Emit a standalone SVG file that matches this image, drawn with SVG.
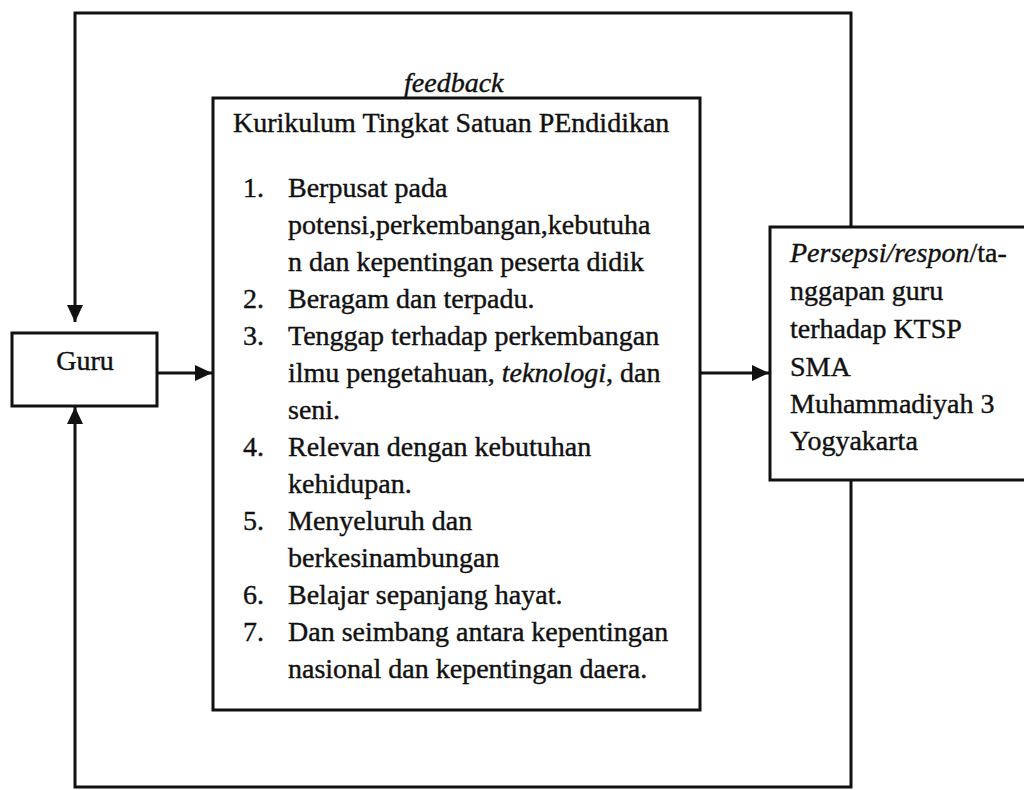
<svg xmlns="http://www.w3.org/2000/svg" width="1024" height="790" viewBox="0 0 1024 790">
<style>
.box{fill:#fff;stroke:#111;stroke-width:3}
.ln{fill:none;stroke:#111;stroke-width:3}
text{font-family:"Liberation Serif","Times New Roman",serif;font-size:28px;fill:#111;stroke:#111;stroke-width:0.4}
.it{font-style:italic}
</style>
<defs>
<marker id="ah" markerWidth="18" markerHeight="18" refX="17" refY="8" orient="auto" markerUnits="userSpaceOnUse">
<path d="M0,0 L17,8 L0,16 Z" fill="#111"/>
</marker>
</defs>
<rect width="1024" height="790" fill="#fff"/>
<g id="connectors">
<path class="ln" d="M851,227 V13 H75 V322" marker-end="url(#ah)"/>
<path class="ln" d="M851,480 V787 H75 V407" marker-end="url(#ah)"/>
<path class="ln" d="M157,373 H212" marker-end="url(#ah)"/>
<path class="ln" d="M700,373 H769" marker-end="url(#ah)"/>
</g>
<g id="guru">
<rect class="box" x="12" y="333" width="145" height="73"/>
<text x="85" y="370" text-anchor="middle">Guru</text>
</g>
<g id="ktsp">
<rect class="box" x="213" y="98" width="487" height="612"/>
<text class="it" x="404" y="92">feedback</text>
<text x="233" y="132">Kurikulum Tingkat Satuan PEndidikan</text>
<text x="243" y="197">1.</text><text x="288" y="197">Berpusat pada</text>
<text x="288" y="234">potensi,perkembangan,kebutuha</text>
<text x="288" y="271">n dan kepentingan peserta didik</text>
<text x="243" y="308">2.</text><text x="288" y="308">Beragam dan terpadu.</text>
<text x="243" y="345">3.</text><text x="288" y="345">Tenggap terhadap perkembangan</text>
<text x="288" y="382">ilmu pengetahuan, <tspan class="it">teknologi</tspan>, dan</text>
<text x="288" y="419">seni.</text>
<text x="243" y="456">4.</text><text x="288" y="456">Relevan dengan kebutuhan</text>
<text x="288" y="493">kehidupan.</text>
<text x="243" y="530">5.</text><text x="288" y="530">Menyeluruh dan</text>
<text x="288" y="567">berkesinambungan</text>
<text x="243" y="604">6.</text><text x="288" y="604">Belajar sepanjang hayat.</text>
<text x="243" y="641">7.</text><text x="288" y="641">Dan seimbang antara kepentingan</text>
<text x="288" y="678">nasional dan kepentingan daera.</text>
</g>
<g id="persepsi">
<rect class="box" x="770" y="227" width="270" height="253"/>
<text x="790" y="262"><tspan class="it">Persepsi/respon</tspan>/ta-</text>
<text x="790" y="300">nggapan guru</text>
<text x="790" y="338">terhadap KTSP</text>
<text x="790" y="376">SMA</text>
<text x="790" y="413">Muhammadiyah 3</text>
<text x="790" y="450">Yogyakarta</text>
</g>
</svg>
